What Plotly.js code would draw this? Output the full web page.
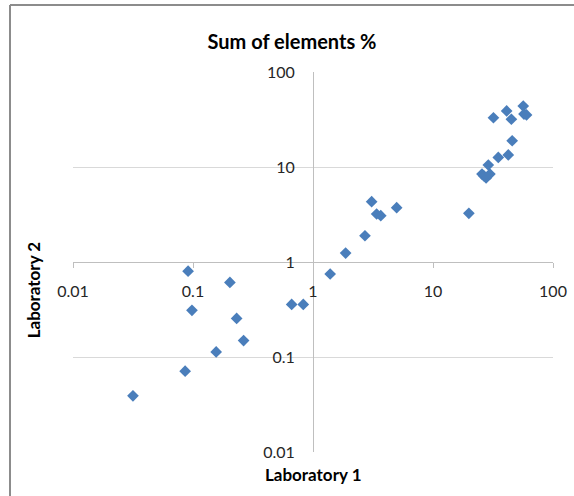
<!DOCTYPE html>
<html>
<head>
<meta charset="utf-8">
<script src="https://cdn.plot.ly/plotly-3.0.1.min.js"></script>
<style>html,body{margin:0;padding:0;background:#fff;}#chart{width:574px;height:496px;}</style>
</head>
<body>
<div id="chart"></div>
<script>
// Data
const chartTitle = "Sum of elements %";
const xTitle = "Laboratory 1";
const yTitle = "Laboratory 2";
const lab1 = [0.0316, 0.086, 0.091, 0.098, 0.156, 0.203, 0.231, 0.264, 0.664, 0.83,
              1.39, 1.87, 2.71, 3.08, 3.39, 3.67, 4.98, 19.9,
              25.6, 26.6, 27.7, 29.8, 28.9, 35.0, 42.4, 45.7,
              31.9, 41.1, 45.0, 56.5, 57.3, 60.2];
const lab2 = [0.039, 0.071, 0.80, 0.31, 0.113, 0.61, 0.255, 0.149, 0.358, 0.358,
              0.748, 1.24, 1.89, 4.32, 3.2, 3.07, 3.73, 3.25,
              8.43, 8.04, 7.66, 8.43, 10.5, 12.6, 13.4, 18.9,
              33.0, 38.9, 31.8, 43.8, 36.1, 35.3];
const tickVals = [0.01, 0.1, 1, 10, 100];
const tickText = ["0.01", "0.1", "1", "10", "100"];

const font = "Lato, 'Open Sans', 'DejaVu Sans', sans-serif";

const trace = {
  x: lab1, y: lab2, type: "scatter", mode: "markers",
  marker: {symbol: "diamond", size: 9, color: "#4a7ebb", line: {width: 0}},
  hoverinfo: "x+y", showlegend: false
};

const layout = {
  width: 574, height: 496,
  margin: {l: 73, r: 21, t: 72, b: 44},
  paper_bgcolor: "#fff", plot_bgcolor: "#fff",
  font: {family: font, color: "#262626"},
  title: {text: "<b>" + chartTitle + "</b>", x: 292 / 574, xref: "container", y: 0.915, yref: "container",
          xanchor: "center", yanchor: "middle", font: {family: font, size: 20, color: "#000"}},
  xaxis: {
    type: "log", range: [-2, 2], anchor: "free", position: 0.5,
    showgrid: false, zeroline: false,
    showline: true, linecolor: "#bfbfbf", linewidth: 1,
    ticks: "outside", ticklen: 5, tickcolor: "#bfbfbf",
    tickvals: tickVals, ticktext: tickText, ticklabelstandoff: 10,
    tickfont: {family: font, size: 16, color: "#262626"}
  },
  yaxis: {
    type: "log", range: [-2, 2], anchor: "free", position: 0.5,
    showgrid: true, gridcolor: "#d9d9d9", gridwidth: 1, zeroline: false,
    showline: true, linecolor: "#bfbfbf", linewidth: 1,
    ticks: "", tickvals: tickVals, ticktext: tickText, ticklabelstandoff: 15,
    tickfont: {family: font, size: 16, color: "#262626"}
  },
  annotations: [
    {text: "<b>" + xTitle + "</b>", xref: "paper", yref: "paper", x: 0.5, y: -0.06,
     xanchor: "center", yanchor: "middle", showarrow: false,
     font: {family: font, size: 17, color: "#000"}},
    {text: "<b>" + yTitle + "</b>", xref: "paper", yref: "paper", x: -0.083, y: 0.426,
     xanchor: "center", yanchor: "middle", textangle: -90, showarrow: false,
     font: {family: font, size: 17, color: "#000"}}
  ],
  shapes: [
    {type: "line", xref: "paper", yref: "paper", x0: (10 - 73) / 480, x1: (10 - 73) / 480,
     y0: (452 - 5) / 380, y1: -0.2, line: {color: "#8c8c8c", width: 2}},
    {type: "line", xref: "paper", yref: "paper", x0: (10 - 73) / 480, x1: 1.2,
     y0: (452 - 5) / 380, y1: (452 - 5) / 380, line: {color: "#8c8c8c", width: 2}}
  ]
};

Plotly.newPlot("chart", [trace], layout, {displayModeBar: false, staticPlot: true});
</script>
</body>
</html>
